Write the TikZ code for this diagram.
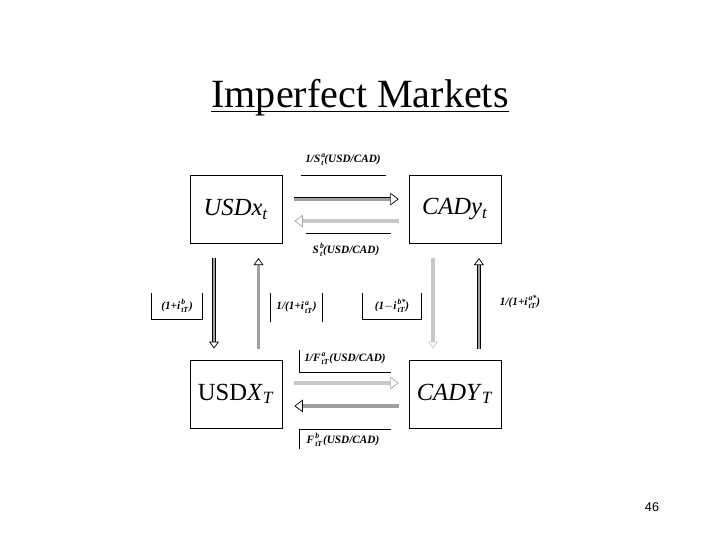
\documentclass[tikz,border=0pt]{standalone}
\usepackage{fontspec}
\setmainfont{Liberation Serif}
\setsansfont{Liberation Sans}
\usepackage{amsmath}
\usetikzlibrary{arrows.meta}
\definecolor{shaftDark}{HTML}{A0A0A0}
\definecolor{shaftLight}{HTML}{C8C8C8}
\newcommand{\supsub}[2]{\kern0.8pt\rlap{\raisebox{3.2pt}{\fontsize{5.5}{6}\selectfont #1}}\raisebox{-2.2pt}{\fontsize{5.5}{6}\selectfont #2}\kern0.6pt}
\tikzset{
  curbox/.style={rectangle, draw, line width=0.6pt, minimum width=2.3cm,
                 minimum height=1.7cm, font=\fontsize{17.5}{20}\selectfont},
  rate/.style={font=\fontsize{8}{9}\selectfont\bfseries\itshape, inner sep=1pt},
  arrowDk/.style={double=shaftDark, double distance=2.2pt, line width=0.5pt,
                  -{Triangle[open, length=6pt, width=9pt]}},
  arrowLt/.style={draw=gray!70, double=shaftLight, double distance=2.2pt, line width=0.5pt,
                  -{Triangle[open, length=6pt, width=9pt]}},
  arrowVd/.style={double=shaftDark, double distance=1.6pt, line width=0.5pt,
                  -{Triangle[open, length=5pt, width=7pt]}},
  arrowVl/.style={draw=shaftLight, double=shaftLight, double distance=1.6pt, line width=0.5pt,
                  -{Triangle[open, length=5pt, width=7pt]}},
  bracket/.style={line width=0.6pt},
}
\begin{document}
\begin{tikzpicture}[x=0.025cm, y=-0.025cm]
  \useasboundingbox (0,0) rectangle (720,540);
  % title
  \node[font=\fontsize{28.5}{32}\selectfont, inner sep=0pt, anchor=base] (title) at (360,107) {Imperfect Markets};
  \draw[line width=1pt] ([yshift=-3.2pt]title.base west) -- ([yshift=-3.2pt]title.base east);

  % currency positions
  \node[curbox] (usd)  at (236,209.5) {\textit{USDx}$_{\text{\textit{t}}}$};
  \node[curbox] (cad)  at (455,209.5) {\textit{CADy}$_{\text{\textit{t}}}$};
  \node[curbox] (usdT) at (236,394) {USD\textit{X}$_{\text{\textit{T}}}$};
  \node[curbox] (cadT) at (455,394) {\textit{CADY}$_{\text{\textit{T}}}$};

  % spot rates
  \node[rate] (sa) at (343,160) {1/S\supsub{a}{t}(USD/CAD)};
  \node[rate] (sb) at (346,250) {S\supsub{b}{t}(USD/CAD)};
  \draw[bracket] (301,175) -- (386,175);
  \draw[bracket] (306,233) -- (391,233);
  \draw[arrowDk, shorten <=8.5pt, shorten >=7pt] ([yshift=7.4pt]usd.east) -- ([yshift=7.4pt]cad.west);
  \draw[arrowLt, shorten <=7pt, shorten >=8.5pt] ([yshift=-8.2pt]cad.west) -- ([yshift=-8.2pt]usd.east);

  % interest rates
  \draw[arrowVd, shorten <=10pt, shorten >=7.8pt] ([xshift=-15.6pt]usd.south) -- ([xshift=-15.6pt]usdT.north);
  \draw[arrowVd, shorten <=7.8pt, shorten >=10pt] ([xshift=16pt]usdT.north) -- ([xshift=16pt]usd.south);
  \draw[arrowVl, shorten <=10pt, shorten >=7.8pt] ([xshift=-15.6pt]cad.south) -- ([xshift=-15.6pt]cadT.north);
  \draw[arrowVd, shorten <=7.8pt, shorten >=10pt] ([xshift=17pt]cadT.north) -- ([xshift=17pt]cad.south);

  \node[rate, minimum width=1.25cm, minimum height=0.65cm] (ib) at (177,306) {(1+i\supsub{b}{tT})};
  \draw[bracket] (ib.north west) |- (ib.south east) -- (ib.north east);
  \node[rate, minimum width=1.27cm, minimum height=0.72cm] (ia) at (296.5,307.5) {1/(1+i\supsub{a}{tT})};
  \draw[bracket] (ia.north west) -- (ia.south west);
  \draw[bracket] (ia.north east) -- (ia.south east);
  \node[rate, minimum width=1.45cm, minimum height=0.65cm] (ibs) at (392,306) {(1$-$i\supsub{b*}{tT})};
  \draw[bracket] (ibs.north west) |- (ibs.south east) -- (ibs.north east);
  \node[rate] (ias) at (520,302) {1/(1+i\supsub{a*}{tT})};

  % forward rates
  \node[rate] (fa) at (345,359) {1/F\supsub{a}{tT} (USD/CAD)};
  \node[rate] (fb) at (343,440) {F\supsub{b}{tT} (USD/CAD)};
  \draw[bracket] (299,350) |- (391,372);
  \draw[bracket] (299,449) |- (391,429);
  \draw[arrowLt, shorten <=8.5pt, shorten >=7pt] ([yshift=7.8pt]usdT.east) -- ([yshift=7.8pt]cadT.west);
  \draw[arrowDk, shorten <=7pt, shorten >=8.5pt] ([yshift=-8.5pt]cadT.west) -- ([yshift=-8.5pt]usdT.east);

  \node[font=\sffamily\fontsize{9}{10}\selectfont] (pg) at (652,507) {46};
\end{tikzpicture}
\end{document}
